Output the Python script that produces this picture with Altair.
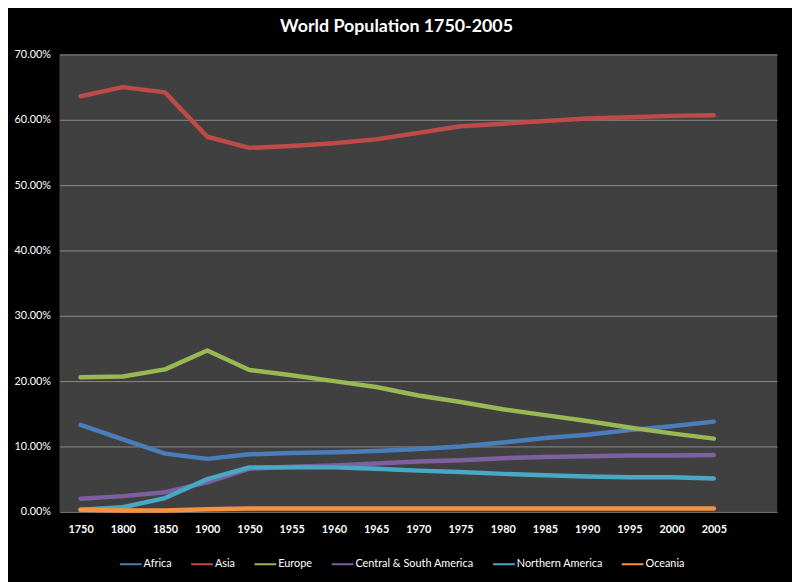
import altair as alt
import pandas as pd

years = ["1750", "1800", "1850", "1900", "1950", "1955", "1960", "1965",
         "1970", "1975", "1980", "1985", "1990", "1995", "2000", "2005"]
# Excel leaves one empty category slot after the last year
x_domain = years + [" "]

africa = [13.3, 11.1, 8.9, 8.1, 8.8, 9.0, 9.1, 9.3, 9.6, 10.0, 10.6, 11.3, 11.8, 12.5, 13.1, 13.8]
asia = [63.6, 65.0, 64.2, 57.4, 55.7, 56.0, 56.4, 57.0, 58.0, 59.0, 59.4, 59.8, 60.2, 60.4, 60.6, 60.7]
europe = [20.6, 20.7, 21.8, 24.7, 21.7, 20.9, 20.0, 19.1, 17.8, 16.8, 15.7, 14.8, 13.9, 12.9, 12.0, 11.2]
latin = [2.0, 2.4, 3.0, 4.5, 6.6, 6.9, 7.1, 7.4, 7.7, 7.9, 8.2, 8.4, 8.5, 8.6, 8.6, 8.7]
northam = [0.3, 0.7, 2.1, 5.0, 6.8, 6.8, 6.8, 6.6, 6.3, 6.1, 5.8, 5.6, 5.4, 5.3, 5.3, 5.1]
oceania = [0.3, 0.2, 0.2, 0.4, 0.5, 0.5, 0.5, 0.5, 0.5, 0.5, 0.5, 0.5, 0.5, 0.5, 0.5, 0.5]

series_names = ["Africa", "Asia", "Europe", "Central & South America",
                "Northern America", "Oceania"]
series_values = [africa, asia, europe, latin, northam, oceania]
colors = ["#4A7EBB", "#BE4B48", "#98B954", "#7D60A0", "#46AAC5", "#F69240"]

rows = []
for name, vals in zip(series_names, series_values):
    for y, v in zip(years, vals):
        rows.append({"Year": y, "Region": name, "Share": v / 100.0})
df = pd.DataFrame(rows)

FONT = "Lato"

chart = alt.Chart(df).mark_line(strokeWidth=4.5, strokeCap="round", strokeJoin="round").encode(
    x=alt.X("Year:O", sort=x_domain,
            scale=alt.Scale(type="point", domain=x_domain, padding=0.5),
            axis=alt.Axis(title=None, labelAngle=0, grid=False, domain=False, ticks=False,
                          labelColor="white", labelFont=FONT, labelFontSize=11,
                          labelFontWeight="bold", labelPadding=12)),
    y=alt.Y("Share:Q",
            scale=alt.Scale(domain=[0, 0.7], nice=False),
            axis=alt.Axis(title=None, format=".2%", values=[0, 0.1, 0.2, 0.3, 0.4, 0.5, 0.6, 0.7],
                          grid=True, gridColor="#8C8C8C", gridWidth=1, domain=False, ticks=False,
                          labelColor="white", labelFont=FONT, labelFontSize=11,
                          labelPadding=9)),
    color=alt.Color("Region:N", sort=series_names,
                    scale=alt.Scale(domain=series_names, range=colors),
                    legend=alt.Legend(title=None, orient="none", direction="horizontal",
                                      legendX=60, legendY=503,
                                      symbolType="stroke", symbolSize=484,
                                      symbolStrokeWidth=2, labelColor="white",
                                      labelFont=FONT, labelFontSize=11,
                                      labelOffset=1, columnPadding=15)),
    order=alt.Order("Year:O"),
).properties(
    width=725,
    height=462,
    background="black",
    padding={"left": 52, "top": 44, "right": 15, "bottom": 68},
    autosize=alt.AutoSizeParams(type="none"),
    title=alt.TitleParams("World Population 1750-2005", color="white", font=FONT,
                          fontSize=18, fontWeight="bold", anchor="middle",
                          dx=-22, offset=13),
).configure_view(
    fill="#404040", stroke=None
)

chart.save("out.html", embed_options={"renderer": "svg", "actions": False})
